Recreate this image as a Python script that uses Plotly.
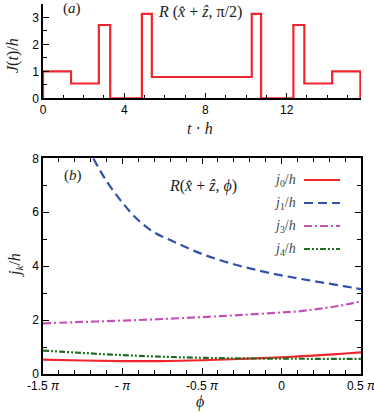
#!/usr/bin/env python3

import plotly.graph_objects as go
from plotly.subplots import make_subplots

# panel (a): pulse sequence, segment start times and heights
t_starts = [0, 1.38, 2.75, 3.31, 4.87, 5.36, 10.28, 10.74, 12.33, 12.87, 14.24]
t_total = 15.63
J_vals = [1.0, 0.55, 2.72, 0.0, 3.13, 0.79, 3.13, 0.0, 2.72, 0.55, 1.0]

# panel (b): couplings vs phi (in units of pi)
phi_j1 = [-1.184, -1.1, -1.0, -0.9, -0.8, -0.7, -0.6, -0.5, -0.4, -0.3,
          -0.2, -0.1, 0.0, 0.1, 0.2, 0.3, 0.4, 0.5]
j1 = [8.0, 7.15, 6.35, 5.70, 5.25, 4.97, 4.70, 4.45, 4.25, 4.07,
      3.92, 3.78, 3.66, 3.55, 3.45, 3.35, 3.25, 3.15]

phi = [-1.5, -1.25, -1.0, -0.75, -0.5, -0.25, 0.0, 0.1, 0.2, 0.3, 0.4, 0.5]
j0 = [0.53, 0.50, 0.48, 0.48, 0.51, 0.56, 0.62, 0.65, 0.68, 0.72, 0.76, 0.80]
j3 = [1.88, 1.93, 1.98, 2.04, 2.11, 2.19, 2.28, 2.32, 2.39, 2.47, 2.57, 2.70]
j4 = [0.87, 0.78, 0.70, 0.64, 0.60, 0.58, 0.57, 0.57, 0.56, 0.56, 0.56, 0.56]

phi_ticks = [-1.5, -1.0, -0.5, 0.0, 0.5]
phi_labels = ['-1.5 <i>π</i>', '- <i>π</i>', '-0.5 <i>π</i>', '0', '0.5 <i>π</i>']

W, H = 374, 413
L, R, T, B = 43, 13, 4, 39

SERIF = 'Liberation Serif, DejaVu Serif, serif'
SANS = 'Liberation Sans, Arial, sans-serif'

RED = '#f0252d'
BLUE = '#3451a8'
MAGENTA = '#c452b4'
GREEN = '#226d25'


def paper(x, y):
    '''pixel position -> paper coordinates'''
    return (x - L) / (W - L - R), (H - B - y) / (H - T - B)


fig = make_subplots(rows=2, cols=1)

# step curve: start at 0, rise, hold, drop back to 0 at the end
xs = [0] + t_starts + [t_total]
ys = [0] + J_vals + [0]
fig.add_trace(go.Scatter(x=xs, y=ys, mode='lines', line_shape='hv',
                         line=dict(color=RED, width=2.2), showlegend=False),
              row=1, col=1)

series = [
    (phi, j0, RED, 'solid', '0'),
    (phi_j1, j1, BLUE, '9px,5px', '1'),
    (phi, j3, MAGENTA, '8px,3px,2px,3px', '3'),
    (phi, j4, GREEN, '6px,2px,2px,2px,2px,2px', '4'),
]
for px_, py_, col, dash, k in series:
    fig.add_trace(go.Scatter(x=px_, y=py_, mode='lines', line_shape='spline',
                             line=dict(color=col, width=2.2, dash=dash),
                             showlegend=False),
                  row=2, col=1)

axis_common = dict(showline=True, linecolor='black', linewidth=1.5,
                   ticks='inside', ticklen=6, tickwidth=1.2, tickcolor='black',
                   showgrid=False, zeroline=False, automargin=False,
                   ticklabeloverflow='allow',
                   tickfont=dict(family=SANS, size=12, color='black'))

fig.update_xaxes(axis_common, row=1, col=1, range=[0, 15.66], dtick=4,
                 tick0=0, minor=dict(ticks='inside', ticklen=4, dtick=1,
                                     tick0=0, tickcolor='black'),
                 domain=[0, 1])
fig.update_yaxes(axis_common, row=1, col=1, range=[0, 3.5], dtick=1,
                 minor=dict(ticks='inside', ticklen=4, dtick=0.5,
                            tickcolor='black'),
                 domain=[paper(0, 98.3)[1], 1])
fig.update_xaxes(axis_common, row=2, col=1, range=[-1.5001, 0.5001],
                 tickmode='array', tickvals=phi_ticks, ticktext=phi_labels,
                 mirror='allticks',
                 minor=dict(ticks='inside', ticklen=4, tickmode='linear',
                            tick0=0, dtick=0.1, tickcolor='black'),
                 domain=[0, 1])
fig.update_yaxes(axis_common, row=2, col=1, range=[0, 8], dtick=2,
                 mirror='allticks',
                 minor=dict(ticks='inside', ticklen=4, dtick=1,
                            tickcolor='black'),
                 domain=[0, paper(0, 158.3)[1]])

notes = [
    ((72, 9), '(<i>a</i>)', 15, 0),
    ((200, 12), '<i>R</i> (<i>x̂</i> + <i>ẑ</i>, π/2)', 16, 0),
    ((13, 55), '<i>J</i>(<i>t</i>)/<i>h</i>', 16, -90),
    ((200, 128), '<i>t</i> · <i>h</i>', 16, 0),
    ((73, 175), '(<i>b</i>)', 15, 0),
    ((203, 186), '<i>R</i>(<i>x̂</i> + <i>ẑ</i>, <i>ϕ</i>)', 16, 0),
    ((15, 265), '<i>j<sub>k</sub></i>/<i>h</i>', 16, -90),
    ((200, 402), '<i>ϕ</i>', 16, 0),
]
for (x, y), text, size, ang in notes:
    ax, ay = paper(x, y)
    fig.add_annotation(x=ax, y=ay, xref='paper', yref='paper', text=text,
                       showarrow=False, textangle=ang,
                       xanchor='center', yanchor='middle',
                       font=dict(family=SERIF, size=size, color='#222'))

# legend drawn by hand: label on the left, line sample on the right
legend_y = [180, 203, 226, 249]
for (px_, py_, col, dash, k), ly in zip(series, legend_y):
    tx, ty = paper(298, ly)
    fig.add_annotation(x=tx, y=ty, xref='paper', yref='paper',
                       text=f'<i>j</i><sub>{k}</sub>/<i>h</i>',
                       showarrow=False, xanchor='right', yanchor='middle',
                       font=dict(family=SERIF, size=14, color='#444'))
    x0, y0 = paper(304, ly)
    x1, _ = paper(340, ly)
    fig.add_shape(type='line', xref='paper', yref='paper',
                  x0=x0, x1=x1, y0=y0, y1=y0,
                  line=dict(color=col, width=2.2, dash=dash))

fig.update_layout(width=W, height=H,
                  margin=dict(l=L, r=R, t=T, b=B, autoexpand=False),
                  paper_bgcolor='white', plot_bgcolor='white',
                  showlegend=False)

# drop the page's default body margin so the figure sits at the corner
fig.write_html('out.html', config={'displayModeBar': False},
               post_script="document.body.style.margin='0';")
